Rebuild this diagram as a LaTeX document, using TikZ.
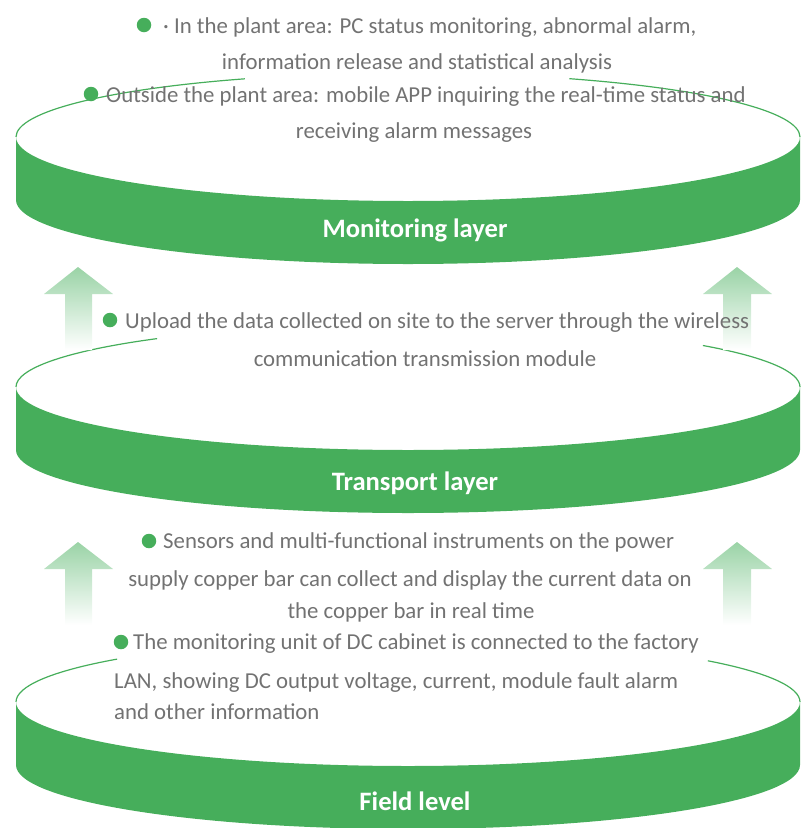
\documentclass[tikz,border=0pt]{standalone}
\usepackage{fontspec}
\setmainfont{Carlito}
\definecolor{lg}{HTML}{46AE5B}
\definecolor{ag}{HTML}{9AD3A6}
\definecolor{tg}{HTML}{727272}
\begin{document}
\begin{tikzpicture}[x=1pt,y=-1pt,
  txt/.style={text=tg, font=\fontsize{22.8}{27}\selectfont, inner sep=0},
  bul/.style={circle, fill=lg, minimum size=14.5pt, inner sep=0},
  lbl/.style={text=white, font=\bfseries\fontsize{26.6}{30}\selectfont, inner sep=0, anchor=base},
  band/.style={fill=lg, draw=none},
  rim/.style={draw=lg, line width=1.2pt},
  uparrow/.style={top color=ag, bottom color=white, draw=none}]
\useasboundingbox (0,0) rectangle (801,828);

% ---- layer bands ----
\path[band] (16,137) -- (16,200) arc[start angle=180, end angle=0, x radius=392, y radius=64]
  -- (800,137) arc[start angle=0, end angle=180, x radius=392, y radius=64] -- cycle;
\path[band] (16,387) -- (16,450) arc[start angle=180, end angle=0, x radius=392, y radius=63]
  -- (800,387) arc[start angle=0, end angle=180, x radius=392, y radius=63] -- cycle;
\path[band] (16,702) -- (16,765) arc[start angle=180, end angle=0, x radius=392, y radius=64]
  -- (800,702) arc[start angle=0, end angle=180, x radius=392, y radius=64] -- cycle;

% ---- back rims ----
\draw[rim] (16,137) arc[start angle=180, end angle=245.4, x radius=392, y radius=64];
\draw[rim] (800,137) arc[start angle=0, end angle=-65.7, x radius=392, y radius=64];
\draw[rim] (16,387) arc[start angle=180, end angle=230.2, x radius=392, y radius=63];
\draw[rim] (800,387) arc[start angle=0, end angle=-41.2, x radius=392, y radius=63];
\draw[rim] (16,702) arc[start angle=180, end angle=222.1, x radius=392, y radius=64];
\draw[rim] (800,702) arc[start angle=0, end angle=-40.1, x radius=392, y radius=64];

% ---- arrows ----
\shade[uparrow] (78,267) -- (113,294) -- (92,294) -- (92,350) -- (65,350) -- (65,294) -- (44,294) -- cycle;
\shade[uparrow] (737,267) -- (772,294) -- (751,294) -- (751,350) -- (723,350) -- (723,294) -- (703,294) -- cycle;
\shade[uparrow] (78,542) -- (113,569) -- (92,569) -- (92,625) -- (65,625) -- (65,569) -- (44,569) -- cycle;
\shade[uparrow] (737,542) -- (772,569) -- (751,569) -- (751,625) -- (723,625) -- (723,569) -- (703,569) -- cycle;

% ---- layer labels ----
\node[lbl] (mon) at (415,237) {Monitoring layer};
\node[lbl] (tra) at (415,490) {Transport layer};
\node[lbl] (fie) at (415,810) {Field level};

% ---- monitoring text ----
\node[bul] (b1) at (144,25) {};
\node[txt, anchor=base west] (m1) at (163,33) {· In the plant area: PC status monitoring, abnormal alarm,};
\node[txt, anchor=base] (m2) at (417,69) {information release and statistical analysis};
\node[bul] (b2) at (91,94) {};
\node[txt, anchor=base west] (m3) at (106,102) {Outside the plant area: mobile APP inquiring the real-time status and};
\node[txt, anchor=base] (m4) at (414,138) {receiving alarm messages};

% ---- transport text ----
\node[bul] (b3) at (110,320) {};
\node[txt, anchor=base west] (t1) at (125,328) {Upload the data collected on site to the server through the wireless};
\node[txt, anchor=base] (t2) at (425,366) {communication transmission module};

% ---- field text ----
\node[bul] (b4) at (149,541) {};
\node[txt, anchor=base west] (f1) at (163,548) {Sensors and multi-functional instruments on the power};
\node[txt, anchor=base] (f2) at (410,586) {supply copper bar can collect and display the current data on};
\node[txt, anchor=base] (f3) at (411,618) {the copper bar in real time};
\node[bul] (b5) at (121,642) {};
\node[txt, anchor=base west] (f4) at (133,649) {The monitoring unit of DC cabinet is connected to the factory};
\node[txt, anchor=base west] (f5) at (114,688) {LAN, showing DC output voltage, current, module fault alarm};
\node[txt, anchor=base west] (f6) at (114,719) {and other information};
\end{tikzpicture}
\end{document}
